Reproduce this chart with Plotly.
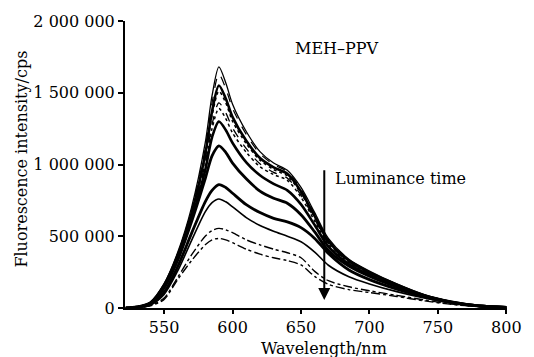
import plotly.graph_objects as go

# Wavelength grid (nm)
wavelength = [522, 530, 540, 550, 560, 570, 580, 585, 590, 595, 600, 610, 620,
              630, 640, 650, 660, 670, 685, 700, 720, 740, 760, 780, 800]

# Fluorescence intensity (thousand cps), top to bottom
c1 = [0, 8, 40, 170, 390, 700, 1150, 1480, 1680, 1570, 1420, 1230, 1090, 1010, 960, 840, 665, 485, 340, 258, 168, 93, 45, 15, 5]
c2 = [0, 8, 40, 165, 380, 680, 1110, 1430, 1630, 1530, 1390, 1210, 1075, 1000, 950, 828, 652, 475, 335, 253, 165, 91, 44, 15, 5]
c3 = [0, 8, 38, 160, 370, 660, 1070, 1370, 1550, 1460, 1330, 1165, 1045, 980, 935, 812, 640, 466, 330, 248, 162, 89, 43, 15, 5]
c4 = [0, 7, 37, 158, 365, 650, 1050, 1340, 1510, 1430, 1300, 1145, 1030, 965, 920, 800, 630, 458, 325, 244, 159, 88, 42, 15, 5]
c5 = [0, 7, 36, 155, 360, 640, 1010, 1280, 1430, 1360, 1255, 1110, 1005, 945, 905, 786, 618, 450, 320, 240, 157, 87, 42, 15, 5]
c6 = [0, 7, 35, 152, 355, 630, 990, 1250, 1390, 1320, 1220, 1085, 985, 930, 890, 772, 606, 442, 315, 236, 155, 86, 41, 15, 5]
c7 = [0, 6, 33, 148, 345, 620, 960, 1190, 1300, 1240, 1150, 1015, 925, 865, 820, 722, 578, 428, 306, 231, 152, 85, 41, 15, 5]
c8 = [0, 6, 30, 140, 335, 600, 900, 1060, 1130, 1085, 1010, 900, 815, 765, 730, 650, 530, 400, 292, 221, 146, 82, 40, 15, 5]
c9 = [0, 5, 25, 110, 290, 520, 740, 820, 860, 840, 800, 720, 665, 625, 600, 560, 485, 380, 265, 198, 132, 78, 38, 14, 4]
c10 = [0, 5, 22, 95, 260, 470, 670, 735, 760, 740, 705, 630, 575, 535, 500, 462, 390, 298, 218, 168, 114, 70, 34, 13, 4]
c11 = [0, 4, 18, 70, 215, 370, 500, 540, 555, 545, 525, 475, 440, 410, 385, 350, 255, 190, 148, 120, 88, 56, 28, 11, 3]
c12 = [0, 3, 15, 60, 200, 330, 440, 475, 485, 475, 455, 410, 375, 350, 330, 300, 220, 165, 128, 108, 80, 50, 25, 10, 3]

series = [c1, c2, c3, c4, c5, c6, c7, c8, c9, c10, c11, c12]
styles = [("solid", 1.3), ("dash", 1.2), ("solid", 2.6), ("dot", 1.5),
          ("dash", 1.3), ("dot", 1.5), ("solid", 2.6), ("solid", 2.8),
          ("solid", 2.8), ("solid", 1.6), ("dashdot", 1.4), ("dashdot", 1.4)]

y_ticks = [0, 500000, 1000000, 1500000, 2000000]
y_ticktext = ["0", "500 000", "1 000 000", "1 500 000", "2 000 000"]
x_ticks = [550, 600, 650, 700, 750, 800]

FONT = "DejaVu Serif"

fig = go.Figure()
for s, (dash, w) in zip(series, styles):
    fig.add_trace(go.Scatter(
        x=wavelength, y=[v * 1000 for v in s], mode="lines",
        line=dict(color="black", width=w, dash=dash, shape="spline", smoothing=0.8),
        showlegend=False, hoverinfo="skip"))

fig.update_layout(
    width=534, height=357,
    margin=dict(l=125, r=17, t=19, b=49),
    paper_bgcolor="white", plot_bgcolor="white",
    font=dict(family=FONT, size=16, color="black"),
    xaxis=dict(range=[521.4, 800.5], tickvals=x_ticks, showgrid=False, zeroline=False,
               showline=True, linecolor="black", linewidth=2, ticks="outside",
               ticklen=4, tickwidth=1.5, tickcolor="black",
               tickfont=dict(family=FONT, size=16)),
    yaxis=dict(range=[0, 2000000], tickvals=y_ticks, ticktext=y_ticktext,
               showgrid=False, zeroline=False, showline=True, linecolor="black",
               linewidth=2, ticks="outside", ticklen=5, tickwidth=1.5,
               tickcolor="black", ticklabelstandoff=0,
               tickfont=dict(family=FONT, size=16)),
    annotations=[
        dict(text="Wavelength/nm", xref="paper", yref="paper", x=0.52, y=-0.14,
             xanchor="center", yanchor="middle", showarrow=False,
             font=dict(family=FONT, size=16)),
        dict(text="Fluorescence intensity/cps", xref="paper", yref="paper",
             x=-0.27, y=0.52, xanchor="center", yanchor="middle", textangle=-90,
             showarrow=False, font=dict(family=FONT, size=16)),
        dict(text="MEH–PPV", x=676, y=1806000, xanchor="center", yanchor="middle",
             showarrow=False, font=dict(family=FONT, size=16)),
        dict(text="Luminance time", x=673.5, y=900000, xanchor="left",
             yanchor="middle", showarrow=False, font=dict(family=FONT, size=16)),
        dict(text="", x=667, y=55000, ax=667, ay=970000, xref="x", yref="y",
             axref="x", ayref="y", showarrow=True, arrowhead=2, arrowsize=1.2,
             arrowwidth=2, arrowcolor="black"),
    ],
)

fig.write_html("out.html")
